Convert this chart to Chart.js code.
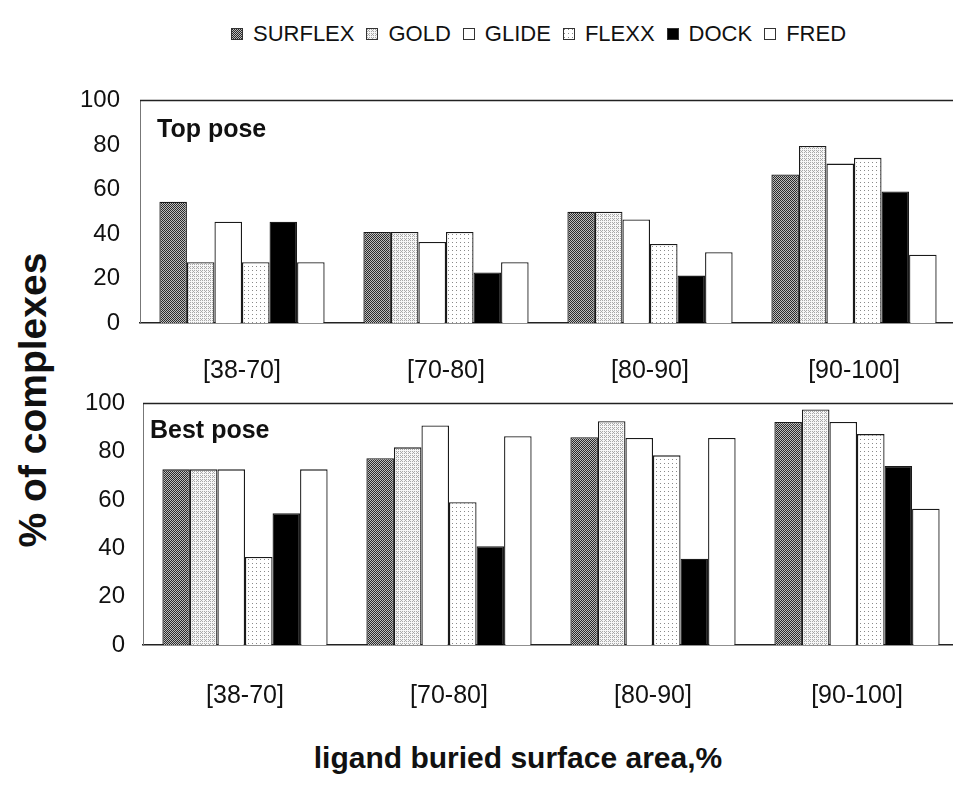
<!DOCTYPE html>
<html>
<head>
<meta charset="utf-8">
<script src="https://cdn.jsdelivr.net/npm/chart.js@4.4.1/dist/chart.umd.min.js"></script>
<style>
  body { margin: 0; background: #fff; width: 953px; height: 791px; overflow: hidden; position: relative;
         font-family: "Liberation Sans", Arial, sans-serif; color: #111; }
  .wrap { position: absolute; left: 0; }
  #legend { position: absolute; left: 231px; top: 21px; display: flex; align-items: center;
            font-size: 22px; white-space: nowrap; }
  #legend .item { display: flex; align-items: center; margin-right: 12px; }
  #legend canvas { width: 12px; height: 12px; border: 1px solid #333; margin-right: 10px; box-sizing: border-box; }
  #ytitle { position: absolute; left: 33px; top: 400px; transform: translate(-50%, -50%) rotate(-90deg);
            font-weight: bold; font-size: 39px; white-space: nowrap; }
  #xtitle { position: absolute; left: 518px; top: 743px; transform: translateX(-50%);
            font-weight: bold; font-size: 30px; line-height: 30px; white-space: nowrap; }
</style>
</head>
<body>
<div id="legend"></div>
<div id="ytitle">% of complexes</div>
<div id="xtitle">ligand buried surface area,%</div>
<div class="wrap" style="top:66px;width:956px;height:322px"><canvas id="topChart"></canvas></div>
<div class="wrap" style="top:371px;width:959px;height:349px"><canvas id="bestChart"></canvas></div>
<script>
const categories = ["[38-70]", "[70-80]", "[80-90]", "[90-100]"]
const methods = ["SURFLEX", "GOLD", "GLIDE", "FLEXX", "DOCK", "FRED"]
const yTicks = [0, 20, 40, 60, 80, 100]

// Top pose, % of complexes
const topSurflex = [54.5, 40.9, 50.0, 66.7]
const topGold = [27.3, 40.9, 50.0, 79.5]
const topGlide = [45.5, 36.4, 46.5, 71.6]
const topFlexx = [27.3, 40.9, 35.5, 74.2]
const topDock = [45.5, 22.7, 21.3, 59.1]
const topFred = [27.3, 27.3, 31.8, 30.7]

// Best pose, % of complexes
const bestSurflex = [72.7, 77.3, 86.0, 92.3]
const bestGold = [72.7, 81.8, 92.6, 97.5]
const bestGlide = [72.7, 90.9, 85.7, 92.3]
const bestFlexx = [36.4, 59.1, 78.5, 87.3]
const bestDock = [54.5, 40.9, 35.7, 74.1]
const bestFred = [72.7, 86.4, 85.7, 56.4]

// ordered-dither fills that mimic the printed screen tones
const bayer = [0,32,8,40,2,34,10,42,48,16,56,24,50,18,58,26,12,44,4,36,14,46,6,38,60,28,52,20,62,30,54,22,
               3,35,11,43,1,33,9,41,51,19,59,27,49,17,57,25,15,47,7,39,13,45,5,37,63,31,55,23,61,29,53,21]

function tone(level, dark, light) {
  const c = document.createElement("canvas")
  c.width = 8; c.height = 8
  const g = c.getContext("2d")
  g.fillStyle = light
  g.fillRect(0, 0, 8, 8)
  g.fillStyle = dark
  for (let i = 0; i < 64; i++) {
    if (bayer[i] < level * 64) g.fillRect(i % 8, Math.floor(i / 8), 1, 1)
  }
  return g.createPattern(c, "repeat")
}

const fills = [
  tone(0.5, "#2a2a2a", "#bdbdbd"),
  tone(0.3, "#a8a8a8", "#f6f6f6"),
  "#ffffff",
  tone(0.06, "#8a8a8a", "#ffffff"),
  "#000000",
  "#ffffff"
]

// legend
const legendEl = document.getElementById("legend")
methods.forEach((m, i) => {
  const item = document.createElement("div")
  item.className = "item"
  const sw = document.createElement("canvas")
  sw.width = 10; sw.height = 10
  const g = sw.getContext("2d")
  g.fillStyle = fills[i]
  g.fillRect(0, 0, 10, 10)
  item.appendChild(sw)
  const t = document.createElement("span")
  t.textContent = m
  item.appendChild(t)
  legendEl.appendChild(item)
})

const framePlugin = {
  id: "frame",
  afterDraw(chart, args, opts) {
    const { ctx, chartArea } = chart
    ctx.save()
    ctx.strokeStyle = "#222"
    ctx.lineWidth = 1.5
    ctx.beginPath()
    ctx.moveTo(chartArea.left, chartArea.top)
    ctx.lineTo(chartArea.right, chartArea.top)
    ctx.stroke()
    ctx.fillStyle = "#111"
    ctx.font = "bold 25px 'Liberation Sans', Arial, sans-serif"
    ctx.textBaseline = "alphabetic"
    ctx.fillText(opts.text, chartArea.left + opts.dx, chartArea.top + opts.dy)
    ctx.restore()
  }
}

function makeChart(id, series, axisWidth, axisHeight, labelPad, tickPad, panel) {
  return new Chart(document.getElementById(id), {
    type: "bar",
    data: {
      labels: categories,
      datasets: methods.map((m, i) => ({
        label: m,
        data: series[i],
        backgroundColor: fills[i],
        borderColor: "#1a1a1a",
        borderWidth: 1.3,
        borderSkipped: "bottom",
        categoryPercentage: 0.81,
        barPercentage: 1.0
      }))
    },
    options: {
      responsive: true,
      maintainAspectRatio: false,
      animation: false,
      layout: { padding: 0 },
      plugins: {
        legend: { display: false },
        tooltip: { enabled: false },
        frame: panel
      },
      scales: {
        x: {
          grid: { display: false },
          border: { display: true, color: "#222", width: 1.5 },
          ticks: { color: "#111", font: { size: 25, family: "'Liberation Sans', Arial, sans-serif" }, padding: labelPad },
          afterFit: (s) => { s.height = axisHeight }
        },
        y: {
          min: 0,
          max: 100,
          afterBuildTicks: (s) => { s.ticks = yTicks.map(v => ({ value: v })) },
          grid: { display: false, drawTicks: false },
          border: { display: true, color: "#777", width: 1 },
          ticks: { color: "#111", font: { size: 24, family: "'Liberation Sans', Arial, sans-serif" }, padding: tickPad },
          afterFit: (s) => { s.width = axisWidth }
        }
      }
    },
    plugins: [framePlugin]
  })
}

// y tick padding also pads the area top by (lineHeight/2 + padding)
makeChart("topChart",
  [topSurflex, topGold, topGlide, topFlexx, topDock, topFred],
  140, 65, 25, 20, { text: "Top pose", dx: 17, dy: 37 })

makeChart("bestChart",
  [bestSurflex, bestGold, bestGlide, bestFlexx, bestDock, bestFred],
  143, 75, 28, 18, { text: "Best pose", dx: 7, dy: 35 })
</script>
</body>
</html>
